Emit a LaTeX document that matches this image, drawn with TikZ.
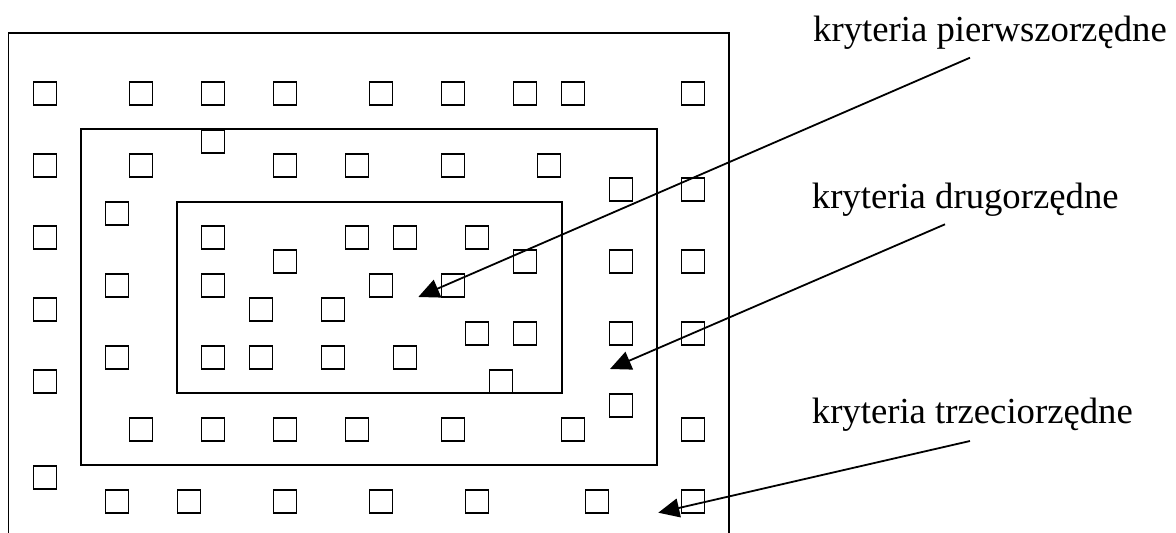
\documentclass[tikz,border=0pt]{standalone}
\usepackage{fontspec}
\setmainfont{Liberation Serif}
\usetikzlibrary{arrows.meta}
\begin{document}
\begin{tikzpicture}[x=1pt,y=-1pt,
  frame/.style={line width=1.8pt},
  sq/.style={draw, line width=1.8pt, minimum size=23pt, inner sep=0pt},
  lbl/.style={anchor=base west, inner sep=0pt, font=\fontsize{36.7}{44}\selectfont},
  ptr/.style={line width=1.8pt, -{Triangle[length=21pt,width=19pt]}}]
\useasboundingbox (0,0) rectangle (1176,533);
% frames
\draw[frame] (8.5,533) -- (8.5,33.3) -- (729.3,33.3) -- (729.3,533);
\draw[frame] (81,129) rectangle (657.3,465.3);
\draw[frame] (176.7,201.7) rectangle (561.7,393.3);
% squares
\foreach \x/\y [count=\i] in {
  45/93.3, 141/93.3, 213/93.3, 285/93.3, 381/93.3, 453/93.3, 525/93.3, 573/93.3, 693/93.3,
  213/141.3,
  45/165.3, 141/165.3, 285/165.3, 357/165.3, 453/165.3, 549/165.3,
  621/189.3, 693/189.3,
  117/213.3,
  45/237.3, 213/237.3, 357/237.3, 405/237.3, 477/237.3,
  285/261.7, 525/261.7, 621/261.7, 693/261.7,
  117/285.5, 213/285.5, 381/285.5, 453/285.5,
  45/309.7, 261/309.7, 333/309.7,
  477/333.7, 525/333.7, 621/333.7, 693/333.7,
  117/357.7, 213/357.7, 261/357.7, 333/357.7, 405/357.7,
  45/381.7, 501/381.7,
  621/405.7,
  141/429.7, 213/429.7, 285/429.7, 357/429.7, 453/429.7, 573/429.7, 693/429.7,
  45/477.7,
  117/501.7, 189/501.7, 285/501.7, 381/501.7, 477/501.7, 597/501.7, 693/501.7}
  \node[sq] (s\i) at (\x,\y) {};
% labels
\node[lbl] (l1) at (813,41.7) {kryteria pierwszorzędne};
\node[lbl] (l2) at (811.7,208.3) {kryteria drugorzędne};
\node[lbl] (l3) at (811.7,423.3) {kryteria trzeciorzędne};
% arrows
\coordinate (a1s) at (970,57.7);
\coordinate (a1t) at (418.3,297);
\coordinate (a2s) at (945,224.3);
\coordinate (a2t) at (610,369);
\coordinate (a3s) at (970,441);
\coordinate (a3t) at (658.3,512.7);
\draw[ptr] (a1s) -- (a1t);
\draw[ptr] (a2s) -- (a2t);
\draw[ptr] (a3s) -- (a3t);
\end{tikzpicture}
\end{document}
